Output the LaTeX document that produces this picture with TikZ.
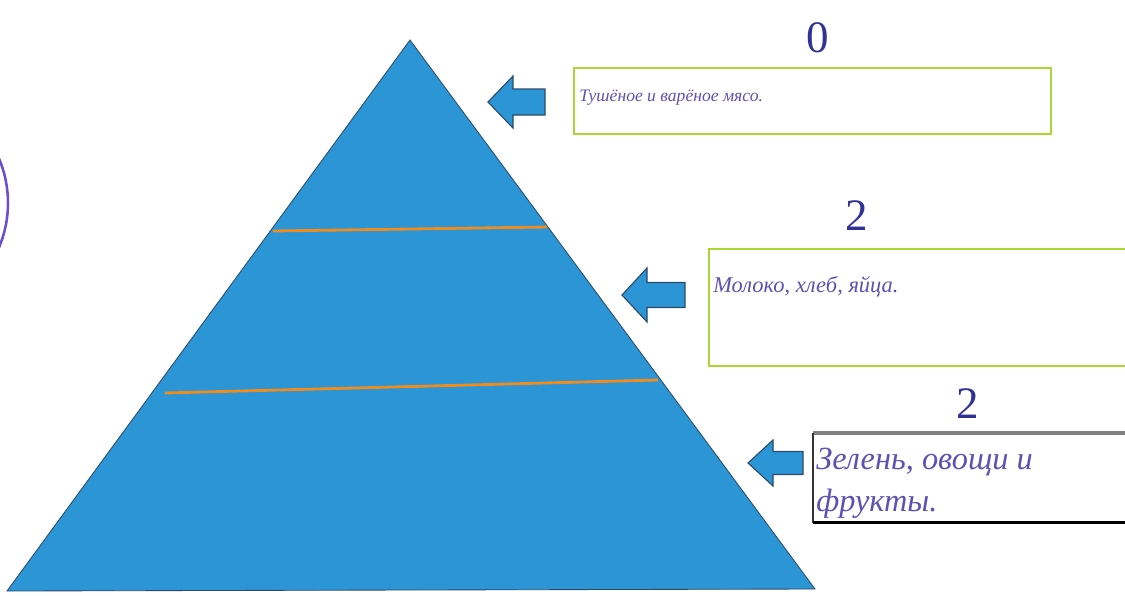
\documentclass[tikz,border=0pt]{standalone}
\usepackage{fontspec}
\setmainfont{Liberation Serif}
\usetikzlibrary{positioning}
\definecolor{pyrblue}{RGB}{43,149,214}
\definecolor{pyredge}{RGB}{45,75,105}
\definecolor{bandline}{RGB}{240,140,30}
\definecolor{limeframe}{RGB}{170,215,50}
\definecolor{ink}{RGB}{95,80,180}
\definecolor{numink}{RGB}{50,50,150}
\definecolor{ringink}{RGB}{105,80,210}

\begin{document}
\begin{tikzpicture}[x=0.025cm, y=-0.025cm, pyramid/.style={fill=pyrblue, draw=pyredge, line width=0.6pt}, band/.style={draw=bandline, line width=2pt}, pointer/.style={fill=pyrblue, draw=pyredge, line width=0.8pt, line join=miter}, limebox/.style={draw=limeframe, line width=1.6pt, anchor=north west, inner sep=0pt}, plainbox/.style={draw=none, anchor=north west, inner sep=0pt}, note/.style={text=ink, font=\itshape, inner sep=0pt, align=left}, score/.style={text=numink, font=\fontsize{32}{32}\selectfont, inner sep=0pt}]
    
    \clip (0,0) rectangle (1125,595);
    
    %Pyramid
    \coordinate (top) at (410,40);
    \coordinate (left) at (7,591);
    \coordinate (right) at (815,589);
    \draw[pyramid] (top) -- (right) -- (left) -- cycle;
    \draw[band] (273,231) -- (547,227);
    \draw[band] (165,393) -- (658,380);
    
    %Stray ring on the left
    \draw[ringink, line width=1.8pt] (-106,203) circle[radius=114];
    
    %Boxes
    \node[limebox, minimum width=11.925cm, minimum height=1.65cm] (meatbox) at (573,67) {};
    \node[limebox, minimum width=10.8cm, minimum height=2.925cm] (milkbox) at (708,248) {};
    \node[plainbox, minimum width=8.175cm, minimum height=2.225cm] (greenbox) at (813,433) {};
    \draw[black!50, line width=2.2pt] (greenbox.north west) -- (greenbox.north east);
    \draw[black!80, line width=0.8pt] (greenbox.north west) -- (greenbox.south west);
    \draw[black, line width=2.2pt] (greenbox.south west) -- (greenbox.south east);
    
    %Texts
    \node[note, anchor=base west, font=\itshape\fontsize{12.5}{15}\selectfont] (meatnote) at ([shift={(6,34)}]meatbox.north west) {Тушёное и варёное мясо.};
    \node[note, anchor=base west, font=\itshape\fontsize{16}{18}\selectfont] (milknote) at ([shift={(5,44)}]milkbox.north west) {Молоко, хлеб, яйца.};
    \node[note, anchor=north west, font=\itshape\fontsize{23}{30}\selectfont] (greennote) at ([shift={(3,15)}]greenbox.north west) {Зелень, овощи и\\фрукты.};
    
    %Numbers
    \node[score] (meatscore) at (818,38) {0};
    \node[score] (milkscore) at (857,216) {2};
    \node[score] (greenscore) at (968,404) {2};
    
    %Arrows
    \foreach \x/\y/\h/\s/\l in {488/102/26/13/57, 622/295/27/12.5/63, 748/463/23/11.5/55}
        \draw[pointer] (\x,\y) -- (\x+25,\y-\h) -- (\x+25,\y-\s) -- (\x+\l,\y-\s) -- (\x+\l,\y+\s) -- (\x+25,\y+\s) -- (\x+25,\y+\h) -- cycle;
    
\end{tikzpicture}
\end{document}
